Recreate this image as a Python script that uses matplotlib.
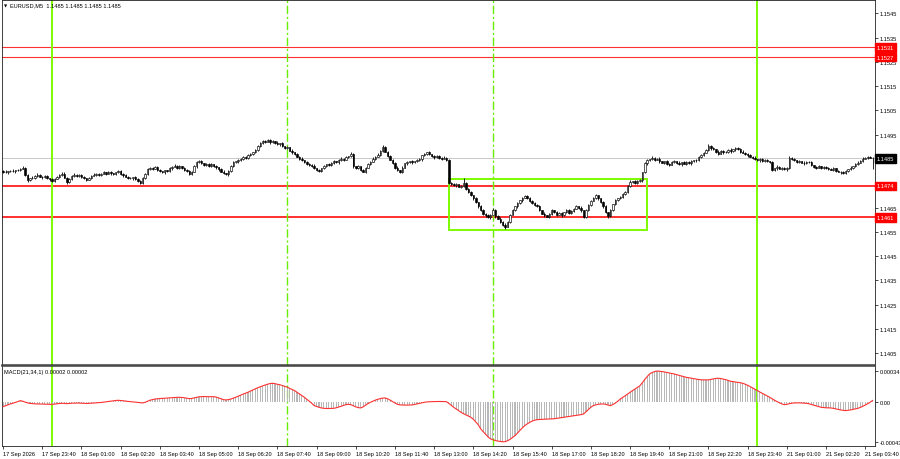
import matplotlib
matplotlib.use("Agg")
import matplotlib.pyplot as plt
import matplotlib.transforms as mtransforms
from matplotlib.patches import Rectangle
import numpy as np

# ---------------- data (prices in points = 1e-5 above 1.14000) ----------------
BASE = 1.14
PT = 1e-5

first_open = 802
closes = [
    798, 795, 800, 802, 799, 804, 806, 810, 812, 785,
    762, 770, 774, 780, 786, 778, 775, 780, 772, 766,
    760, 768, 778, 785, 790, 772, 755, 768, 782, 786,
    780, 785, 776, 770, 765, 772, 782, 786, 788, 784,
    790, 795, 790, 796, 792, 788, 795, 800, 790, 784,
    778, 774, 770, 776, 768, 760, 752, 770, 790, 808,
    815, 810, 818, 805, 800, 796, 803, 800, 812, 818,
    822, 814, 820, 812, 806, 800, 790, 798, 820, 836,
    842, 832, 826, 830, 822, 828, 820, 816, 808, 798,
    792, 788, 800, 822, 836, 840, 845, 852, 858, 855,
    866, 872, 878, 888, 902, 916, 925, 922, 928, 920,
    924, 918, 910, 915, 902, 895, 898, 885, 878, 870,
    860, 852, 845, 838, 830, 826, 822, 812, 806, 800,
    812, 822, 828, 825, 834, 840, 836, 846, 852, 848,
    858, 862, 870, 820, 812, 820, 805, 798, 815, 830,
    838, 852, 860, 868, 885, 900, 880, 862, 848, 835,
    815, 805, 798, 815, 832, 838, 842, 836, 840, 845,
    850, 865, 872, 878, 870, 862, 858, 862, 856, 852,
    855, 845, 752, 748, 742, 746, 735, 740, 750, 728,
    715, 700, 688, 672, 655, 640, 625, 618, 610, 620,
    640, 615, 605, 592, 580, 572, 590, 620, 640, 655,
    668, 680, 690, 698, 688, 678, 670, 662, 655, 640,
    625, 618, 612, 625, 640, 632, 620, 628, 618, 632,
    640, 628, 636, 645, 655, 650, 640, 612, 640, 660,
    678, 690, 700, 688, 672, 655, 630, 615, 640, 665,
    682, 688, 695, 705, 715, 740, 755, 758, 752, 758,
    762, 795, 832, 845, 850, 856, 848, 852, 840, 835,
    842, 830, 826, 838, 842, 835, 828, 836, 830, 838,
    832, 840, 845, 848, 858, 868, 875, 888, 905, 895,
    890, 880, 872, 885, 878, 880, 888, 882, 890, 895,
    892, 880, 876, 870, 866, 860, 855, 850, 845, 850,
    842, 846, 840, 838, 805, 812, 818, 810, 815, 808,
    812, 855, 850, 845, 838, 842, 835, 832, 838, 836,
    825, 818, 815, 820, 812, 818, 815, 810, 806, 812,
    802, 798, 795, 792, 800, 808, 815, 820, 828, 835,
    842, 852, 856, 860, 856, 853,
]
wick_up = [
    3, 5, 2, 4, 6, 3, 2, 5, 8, 6,
    4, 2, 5, 3, 6, 2, 4, 3, 5, 2,
    6, 3, 4, 2, 5, 8, 3, 4, 2, 6,
    3, 5, 2, 4, 3, 6, 2, 5, 3, 4,
    2, 6, 3, 4, 5, 2, 3, 6, 4, 2,
    5, 3, 4, 2, 6, 3, 4, 5, 3, 6,
    4, 2, 5, 3, 6, 2, 4, 3, 5, 2,
    6, 3, 4, 2, 5, 3, 6, 2, 4, 5,
    3, 6, 2, 4, 3, 5, 2, 6, 3, 4,
    5, 2, 4, 3, 6, 2, 5, 3, 4, 6,
    3, 5, 2, 4, 6, 3, 5, 2, 4, 3,
    6, 2, 5, 3, 4, 2, 6, 3, 5, 2,
    4, 3, 6, 2, 5, 3, 4, 6, 2, 5,
    3, 4, 2, 6, 3, 5, 2, 4, 6, 3,
    5, 2, 8, 4, 3, 6, 2, 5, 3, 4,
    2, 6, 3, 5, 4, 6, 3, 2, 5, 4,
    3, 5, 2, 6, 3, 4, 2, 5, 3, 6,
    4, 2, 5, 3, 6, 2, 4, 3, 5, 2,
    6, 3, 4, 5, 3, 6, 2, 5, 22, 4,
    3, 5, 2, 6, 3, 4, 5, 2, 6, 3,
    8, 4, 3, 5, 2, 6, 3, 4, 5, 3,
    6, 2, 4, 5, 3, 6, 2, 4, 3, 5,
    2, 6, 3, 4, 5, 2, 6, 3, 4, 2,
    5, 3, 6, 2, 4, 3, 5, 2, 6, 3,
    4, 5, 6, 3, 2, 5, 4, 3, 6, 2,
    5, 3, 4, 6, 2, 5, 8, 3, 6, 4,
    5, 3, 4, 6, 2, 5, 3, 4, 6, 3,
    2, 5, 4, 3, 6, 2, 5, 3, 4, 6,
    3, 5, 2, 4, 6, 3, 5, 4, 8, 3,
    5, 2, 6, 3, 4, 5, 2, 6, 3, 5,
    4, 3, 6, 2, 5, 3, 4, 6, 2, 5,
    3, 4, 6, 2, 5, 3, 6, 2, 4, 3,
    5, 6, 2, 4, 3, 5, 2, 6, 3, 4,
    5, 2, 4, 6, 3, 5, 2, 4, 3, 6,
    2, 5, 3, 4, 6, 2, 5, 3, 4, 6,
    3, 5, 2, 4, 4, 3,
]
wick_dn = [
    4, 2, 5, 3, 2, 6, 3, 4, 2, 5,
    6, 3, 2, 5, 4, 3, 6, 2, 4, 5,
    3, 6, 2, 4, 3, 2, 8, 5, 3, 4,
    2, 4, 6, 3, 5, 2, 4, 3, 6, 2,
    5, 3, 4, 2, 6, 3, 5, 2, 4, 6,
    3, 5, 2, 6, 4, 3, 6, 4, 2, 5,
    3, 6, 2, 4, 5, 3, 6, 2, 4, 5,
    2, 4, 6, 3, 5, 2, 4, 6, 3, 5,
    4, 2, 5, 6, 3, 4, 2, 5, 6, 3,
    2, 5, 6, 3, 4, 2, 5, 3, 6, 4,
    5, 2, 4, 3, 6, 2, 5, 4, 3, 6,
    2, 5, 3, 6, 4, 2, 5, 3, 6, 4,
    3, 5, 2, 4, 6, 3, 5, 2, 6, 4,
    5, 3, 6, 2, 4, 5, 3, 6, 2, 4,
    3, 5, 2, 6, 4, 3, 6, 2, 5, 3,
    4, 2, 5, 3, 6, 4, 2, 5, 3, 6,
    5, 3, 6, 4, 2, 5, 3, 6, 4, 2,
    3, 6, 2, 5, 4, 3, 6, 2, 5, 4,
    2, 5, 6, 4, 3, 5, 2, 6, 3, 5,
    4, 3, 6, 2, 5, 3, 4, 6, 3, 5,
    2, 6, 3, 5, 4, 10, 3, 5, 2, 4,
    5, 3, 6, 2, 4, 5, 3, 6, 2, 4,
    3, 5, 2, 6, 4, 3, 5, 2, 6, 3,
    4, 6, 3, 5, 2, 4, 6, 5, 3, 4,
    5, 2, 4, 6, 3, 5, 2, 6, 3, 5,
    3, 6, 2, 5, 4, 3, 5, 2, 6, 3,
    4, 5, 3, 6, 2, 4, 5, 3, 6, 2,
    5, 3, 6, 2, 4, 5, 3, 6, 2, 4,
    3, 5, 2, 6, 4, 3, 5, 2, 4, 6,
    2, 4, 5, 3, 6, 2, 4, 5, 3, 6,
    3, 5, 2, 4, 6, 3, 5, 2, 4, 6,
    3, 6, 2, 5, 4, 3, 6, 2, 4, 5,
    6, 3, 5, 2, 4, 6, 3, 5, 2, 4,
    3, 5, 6, 2, 4, 3, 5, 6, 2, 4,
    5, 3, 6, 2, 4, 5, 3, 6, 2, 4,
    3, 5, 2, 4, 3, 43,
]
# MACD(21,34,1) in points (1e-5)
macd = [
    -4.7, -3.8, -2.8, -1.8, -1.0, -0.2, 0.8, 1.8, 1.2, 0.2,
    -0.6, -1.2, -1.5, -1.7, -1.8, -1.9, -2.0, -2.1, -2.2, -2.2,
    -2.2, -2.0, -1.6, -1.3, -1.1, -1.2, -1.5, -1.2, -1.0, -0.9,
    -0.9, -0.8, -1.0, -1.2, -1.3, -1.2, -1.0, -0.8, -0.6, -0.4,
    -0.2, 0.2, 0.5, 0.9, 1.2, 1.6, 2.0, 2.2, 2.0, 1.7,
    1.3, 1.0, 0.7, 0.5, 0.2, -0.2, -0.6, -0.7, 0.0, 1.2,
    2.3, 3.0, 3.6, 3.9, 4.1, 4.3, 4.5, 4.6, 4.8, 5.0,
    5.2, 5.4, 5.5, 5.3, 5.0, 4.5, 4.0, 4.2, 4.8, 5.5,
    6.0, 6.2, 6.3, 6.2, 6.1, 6.2, 6.2, 5.6, 4.8, 3.8,
    2.9, 2.6, 2.9, 3.6, 4.5, 5.5, 6.6, 7.8, 9.0, 10.0,
    11.0, 12.2, 13.5, 14.8, 16.0, 17.0, 18.0, 18.9, 19.8, 20.5,
    20.8, 20.4, 19.7, 19.2, 18.4, 17.5, 16.5, 15.3, 14.0, 12.8,
    11.0, 9.2, 7.4, 5.5, 3.3, 1.2, -1.0, -3.6, -4.6, -5.5,
    -6.2, -6.6, -6.8, -6.8, -6.7, -6.6, -6.0, -5.2, -4.4, -3.4,
    -2.6, -2.2, -2.6, -3.8, -5.0, -5.8, -6.2, -5.0, -3.2, -1.4,
    0.0, 1.2, 2.4, 3.3, 4.1, 4.6, 4.7, 3.8, 2.4, 0.8,
    -0.8, -2.2, -2.8, -3.0, -3.1, -3.0, -2.9, -2.9, -2.4, -1.8,
    -1.2, -0.6, 0.0, 0.4, 0.6, 0.7, 0.8, 0.8, 0.9, 0.9,
    0.8, 0.7, -1.2, -3.4, -5.5, -7.4, -9.2, -11.0, -12.5, -13.8,
    -15.2, -16.4, -18.6, -21.5, -24.5, -29.0, -32.0, -35.0, -37.8, -40.0,
    -41.0, -41.8, -42.4, -42.8, -43.2, -43.0, -42.0, -40.5, -38.5, -36.5,
    -33.8, -30.8, -28.0, -25.5, -23.6, -22.0, -20.6, -19.6, -19.0, -18.8,
    -18.6, -18.5, -18.4, -18.3, -18.2, -18.0, -17.6, -17.2, -16.8, -16.4,
    -16.0, -15.6, -15.2, -14.8, -14.3, -13.9, -13.5, -12.8, -10.4, -7.8,
    -5.4, -3.6, -2.8, -2.2, -1.9, -1.8, -2.2, -3.0, -3.6, -2.4,
    -0.8, 1.2, 3.6, 5.4, 7.2, 9.0, 11.0, 12.8, 14.6, 16.3,
    18.0, 21.5, 25.0, 28.2, 31.0, 32.6, 33.6, 34.2, 34.0, 33.6,
    33.2, 32.6, 32.0, 31.5, 31.0, 30.3, 29.5, 28.7, 28.0, 27.3,
    26.8, 26.3, 25.8, 25.3, 24.9, 24.6, 24.5, 24.5, 24.5, 25.0,
    25.6, 26.1, 26.3, 26.0, 25.4, 24.8, 24.0, 23.0, 22.6, 22.2,
    21.8, 21.4, 20.8, 19.8, 18.6, 17.2, 15.8, 14.2, 12.8, 11.2,
    9.8, 8.4, 7.0, 5.5, 3.8, 2.2, 0.8, -0.6, -1.8, -2.6,
    -2.2, -1.6, -1.0, -0.7, -0.6, -0.6, -0.7, -0.9, -1.1, -1.6,
    -2.4, -3.2, -4.0, -4.8, -5.5, -5.8, -6.0, -6.1, -6.2, -6.6,
    -7.2, -7.8, -8.4, -8.8, -9.1, -8.8, -8.4, -7.8, -7.2, -6.6,
    -5.6, -4.4, -3.0, -1.6, 0.0, 2.0,
]

red_levels = [1.1531, 1.1527, 1.1474, 1.1461]
red_widths = [0.8, 0.8, 1.4, 1.4]
bid = 1.14853
day_lines = [20, 308]          # bar indices of day separators
session_lines = [116, 200]     # bar indices of dash-dot lines
box_bars = [182, 263]
box_prices = [1.14558, 1.14768]
price_ticks = [1.1405, 1.1415, 1.1425, 1.1435, 1.1445, 1.1455, 1.1465, 1.1475,
               1.1485, 1.1495, 1.1505, 1.1515, 1.1525, 1.1535, 1.1545]
hidden_price_ticks = [1.1485]   # fully covered by the bid box in the reference
time_tick_bars = [0, 16, 32, 48, 64, 80, 96, 112, 128, 144, 160, 176, 192, 208,
                  224, 240, 256, 272, 288, 304, 320, 336, 352]
time_labels = ["17 Sep 2026", "17 Sep 23:40", "18 Sep 01:00", "18 Sep 02:20",
               "18 Sep 03:40", "18 Sep 05:00", "18 Sep 06:20", "18 Sep 07:40",
               "18 Sep 09:00", "18 Sep 10:20", "18 Sep 11:40", "18 Sep 13:00",
               "18 Sep 14:20", "18 Sep 15:40", "18 Sep 17:00", "18 Sep 18:20",
               "18 Sep 19:40", "18 Sep 21:00", "18 Sep 22:20", "18 Sep 23:40",
               "21 Sep 01:00", "21 Sep 02:20", "21 Sep 03:40"]
macd_ticks = [34, 0, -43]
macd_tick_labels = ["0.00034", "0.00", "-0.00043"]

# ---------------- figure ----------------
plt.rcParams['font.family'] = ['Liberation Sans', 'DejaVu Sans']
plt.rcParams['font.size'] = 4

W, H = 900, 460
FS = 4.1
fig = plt.figure(figsize=(9, 4.6), dpi=100, facecolor='white')
ax = fig.add_axes([2 / W, (H - 366) / H, 873 / W, 365 / H])
ax2 = fig.add_axes([2 / W, (H - 447) / H, 873 / W, 80 / H])

n = len(closes)
x = np.arange(n)
c = BASE + np.array(closes, dtype=float) * PT
o = BASE + np.array([first_open] + closes[:-1], dtype=float) * PT
hi = np.maximum(o, c) + np.array(wick_up[:n]) * PT
lo = np.minimum(o, c) - np.array(wick_dn[:n]) * PT

XL = (-0.45, 356.0)

# levels and lines
for lvl, lw in zip(red_levels, red_widths):
    ax.axhline(lvl, color='#ff3030', lw=lw, zorder=2)
ax.axhline(bid, color='#c8c8c8', lw=0.7, zorder=1)

lime = '#7cfc00'
for a in (ax, ax2):
    for b in day_lines:
        a.axvline(b, color=lime, lw=1.4, zorder=2)
    for b in session_lines:
        a.axvline(b, color='#66ee00', lw=1.0, ls=(0, (6, 2, 1.5, 2)), zorder=2)

ax.add_patch(Rectangle((box_bars[0], box_prices[0]), box_bars[1] - box_bars[0],
                       box_prices[1] - box_prices[0], fill=False, ec=lime, lw=1.4, zorder=4))

# candles
ax.vlines(x, lo, hi, color='black', lw=0.6, zorder=5)
bottoms = np.minimum(o, c)
heights = np.maximum(np.abs(c - o), 0.5 * PT)
bull = c > o
ax.bar(x[bull], heights[bull], bottom=bottoms[bull], width=0.6, facecolor='white',
       edgecolor='black', lw=0.45, zorder=6)
ax.bar(x[~bull], heights[~bull], bottom=bottoms[~bull], width=0.6, facecolor='black',
       edgecolor='black', lw=0.45, zorder=6)

ax.set_xlim(*XL)
ax.set_ylim(1.14002, 1.15505)
ax.set_xticks([])
ax.yaxis.tick_right()
ax.set_yticks(price_ticks)
ax.set_yticklabels(["" if p in hidden_price_ticks else f"{p:.4f}" for p in price_ticks])
ax.tick_params(axis='y', length=2, width=0.5, pad=1.5, labelsize=FS, colors='black')

# price label boxes
tr = mtransforms.blended_transform_factory(ax.transAxes, ax.transData)
for lvl in red_levels:
    ax.text(1.0022, lvl, f"{lvl:.4f}", transform=tr, ha='left', va='center', fontsize=FS,
            color='white', bbox=dict(boxstyle='square,pad=0.3', fc='#ff0000', ec='#ff0000'),
            clip_on=False, zorder=20)
ax.text(1.0022, bid, f"{bid:.4f}", transform=tr, ha='left', va='center', fontsize=FS,
        color='white', bbox=dict(boxstyle='square,pad=0.3', fc='black', ec='black'),
        clip_on=False, zorder=20)

# MACD pane
m = np.array(macd[:n])
ax2.bar(x, m, width=0.45, color='#b8b8b8', zorder=3)
ax2.plot(x, m, color='#ff3030', lw=0.8, zorder=4)
ax2.set_xlim(*XL)
ax2.set_ylim(-47.8, 39.7)
ax2.yaxis.tick_right()
ax2.set_yticks(macd_ticks)
ax2.set_yticklabels(macd_tick_labels)
ax2.tick_params(axis='y', length=2, width=0.5, pad=1.2, labelsize=FS)
ax2.set_xticks(time_tick_bars)
ax2.set_xticklabels(time_labels)
for lbl in ax2.get_xticklabels():
    lbl.set_ha('left')
ax2.tick_params(axis='x', length=2.5, width=0.5, pad=1.2, labelsize=FS, direction='out')

# spines
for a in (ax, ax2):
    for s in a.spines.values():
        s.set_color('#202020')
        s.set_linewidth(0.6)
ax.spines['bottom'].set_color('#404040')
ax.spines['bottom'].set_linewidth(1.1)
ax2.spines['top'].set_color('#404040')
ax2.spines['top'].set_linewidth(1.1)

# header texts
fig.text(4 / W, 1 - 6 / H, "\u25BC", fontsize=3, va='center', ha='left',
         family='DejaVu Sans')
fig.text(10 / W, 1 - 6 / H, "EURUSD,M5  1.1485 1.1485 1.1485 1.1485", fontsize=FS,
         va='center', ha='left')
fig.text(4 / W, 1 - 373 / H, "MACD(21,34,1) 0.00002 0.00002", fontsize=FS,
         va='center', ha='left')

fig.savefig("out.png", dpi=100, facecolor='white')
